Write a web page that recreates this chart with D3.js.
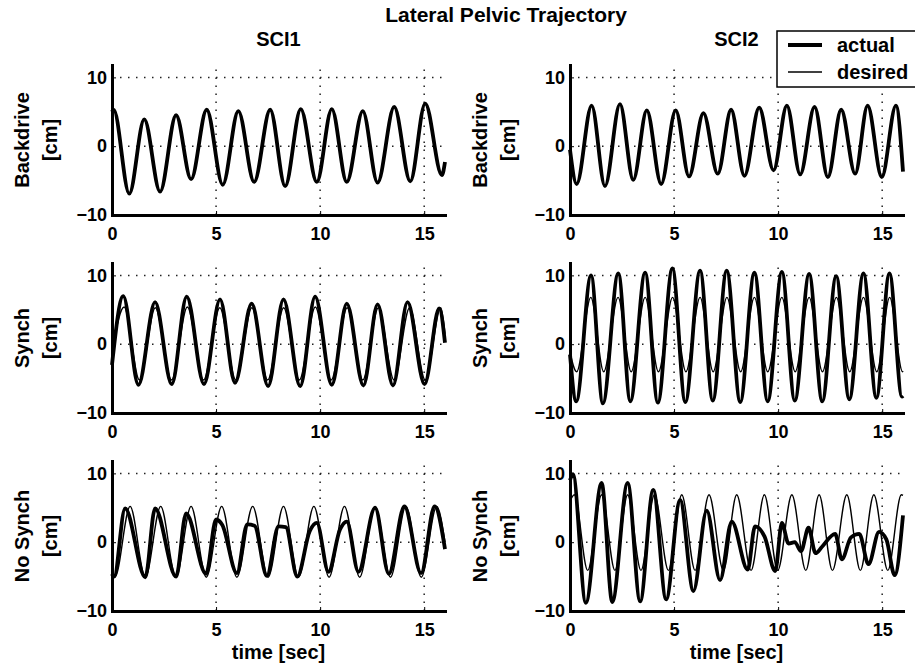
<!DOCTYPE html>
<html>
<head>
<meta charset="utf-8">
<script src="https://cdn.jsdelivr.net/npm/d3@7"></script>
<style>
  body { margin: 0; background: #fff; }
  svg text { font-family: "Liberation Sans", Arial, Helvetica, sans-serif; font-weight: bold; fill: #000; }
  .tick text { font-size: 18px; }
  .lbl { font-size: 20px; }
  .title { font-size: 21px; }
</style>
</head>
<body>
<svg id="chart" width="915" height="666"></svg>
<script>
// --- Datos (t en s, valor en cm) ---
const xTicks = [0, 5, 10, 15];
const yTicks = [-10, 0, 10];
const colTitles = ["SCI1", "SCI2"];
const rowLabels = ["Backdrive", "Synch", "No Synch"];
const legendLabels = ["actual", "desired"];

const sci1BackdriveT = [0, 0.08, 0.83, 1.55, 2.31, 3.08, 3.8, 4.55, 5.32, 6.07, 6.83, 7.6, 8.32, 9.07, 9.84, 10.56, 11.28, 12.05, 12.76, 13.56, 14.33, 15.05, 15.85, 16];
const sci1BackdriveY = [5.0, 5.3, -6.9, 3.9, -6.6, 4.5, -4.8, 5.3, -5.6, 5.1, -5.2, 5.3, -5.8, 5.4, -5.2, 5.4, -5.2, 5.1, -5.3, 5.7, -5.1, 6.2, -4.2, -2.3];

const sci2BackdriveT = [0, 0.32, 1.04, 1.68, 2.4, 3.04, 3.69, 4.38, 5.08, 5.72, 6.41, 7.1, 7.74, 8.38, 9.09, 9.78, 10.42, 11.06, 11.75, 12.39, 13.03, 13.7, 14.3, 14.98, 15.66, 16];
const sci2BackdriveY = [-0.5, -5.5, 5.9, -5.8, 6.1, -4.9, 5.2, -5.5, 5.2, -4.4, 4.8, -4.0, 5.3, -4.3, 5.6, -3.5, 5.9, -4.1, 5.7, -4.5, 5.3, -4.0, 5.9, -4.5, 5.9, -3.7];

const sci1SynchActT = [0, 0.54, 1.27, 2.07, 2.87, 3.59, 4.42, 5.19, 5.91, 6.71, 7.5, 8.24, 9.04, 9.76, 10.56, 11.28, 12.08, 12.76, 13.5, 14.2, 15.02, 15.72, 16];
const sci1SynchActY = [-3.0, 7.0, -5.9, 6.1, -5.8, 6.9, -5.8, 6.5, -5.6, 5.9, -6.1, 6.5, -6.1, 6.9, -5.9, 5.9, -6.0, 5.8, -6.0, 6.1, -5.8, 5.2, 0.2];
const sci1SynchDesT = [0, 0.58, 1.32, 2.08, 2.86, 3.62, 4.4, 5.18, 5.95, 6.72, 7.48, 8.25, 9.0, 9.77, 10.53, 11.3, 12.05, 12.8, 13.55, 14.3, 15.05, 15.8, 16];
const sci1SynchDesY = [-1.0, 5.4, -5.2, 5.3, -5.2, 5.4, -5.2, 5.3, -5.2, 5.3, -5.2, 5.3, -5.2, 5.4, -5.2, 5.3, -5.2, 5.3, -5.2, 5.3, -5.2, 5.3, 1.5];

const sci2SynchActT = [0, 0.3, 1.01, 1.58, 2.32, 2.9, 3.61, 4.22, 4.92, 5.54, 6.25, 6.86, 7.53, 8.18, 8.86, 9.5, 10.18, 10.8, 11.49, 12.12, 12.79, 13.42, 14.1, 14.72, 15.35, 15.95, 16];
const sci2SynchActY = [-1.5, -8.3, 10.0, -8.6, 10.3, -8.3, 10.4, -8.5, 11.0, -8.4, 10.7, -8.2, 10.7, -8.4, 10.4, -8.3, 10.5, -8.2, 10.2, -8.3, 9.9, -8.0, 10.3, -7.8, 10.3, -7.6, -7.5];
const sci2SynchDesT = [0, 0.32, 1.0, 1.62, 2.31, 2.94, 3.61, 4.25, 4.93, 5.57, 6.25, 6.88, 7.54, 8.2, 8.86, 9.5, 10.18, 10.82, 11.49, 12.13, 12.8, 13.44, 14.1, 14.74, 15.36, 15.98, 16];
const sci2SynchDesY = [-1.2, -4.0, 6.8, -4.0, 6.8, -4.0, 6.8, -4.0, 6.8, -4.0, 6.8, -4.0, 6.8, -4.0, 6.8, -4.0, 6.8, -4.0, 6.8, -4.0, 6.8, -4.0, 6.8, -4.0, 6.8, -4.0, -3.9];

const sci1NoSynchActT = [0, 0.1, 0.63, 1.6, 2.07, 3.08, 3.56, 4.52, 5.0, 5.3, 6.0, 6.5, 6.85, 7.44, 8.0, 8.35, 8.9, 9.5, 9.84, 10.4, 10.95, 11.28, 11.84, 12.64, 13.3, 14.05, 14.85, 15.5, 16];
const sci1NoSynchActY = [-4.6, -5.0, 4.9, -5.1, 4.9, -5.0, 4.2, -4.6, 3.3, 2.5, -4.5, 2.6, 2.4, -4.9, 2.3, 2.2, -5.0, 1.6, 2.8, -4.3, 1.8, 3.0, -4.3, 5.0, -4.6, 5.2, -4.5, 5.2, -1.0];
const sci1NoSynchDesT = [0, 0.14, 0.87, 1.6, 2.34, 3.07, 3.8, 4.53, 5.27, 6.0, 6.76, 7.5, 8.24, 8.96, 9.7, 10.43, 11.17, 11.9, 12.64, 13.38, 14.12, 14.86, 15.6, 16];
const sci1NoSynchDesY = [-4.8, -5.1, 5.2, -5.1, 5.2, -5.1, 5.2, -5.1, 5.2, -5.1, 5.2, -5.1, 5.2, -5.1, 5.2, -5.1, 5.2, -5.1, 5.2, -5.1, 5.2, -5.1, 5.2, 0.0];

const sci2NoSynchActT = [0, 0.14, 0.76, 1.52, 2.03, 2.77, 3.37, 4.0, 4.62, 5.29, 5.93, 6.57, 7.21, 7.77, 8.54, 8.89, 9.35, 9.86, 10.18, 10.5, 10.8, 11.1, 11.46, 11.8, 12.1, 12.74, 13.06, 13.5, 13.9, 14.34, 14.85, 15.2, 15.6, 16];
const sci2NoSynchActY = [9.0, 9.9, -8.8, 8.6, -8.7, 8.6, -8.6, 7.6, -8.3, 6.1, -7.1, 4.6, -5.5, 3.0, -4.0, 2.3, 0.8, -4.2, 2.8, -0.2, 0.0, -1.3, 2.1, -1.6, -0.7, 1.2, -2.5, 0.7, 1.2, -3.2, 1.5, 0.4, -4.8, 3.9];
const sci2NoSynchDesT = [0, 0.21, 0.85, 1.52, 2.16, 2.77, 3.41, 4.06, 4.73, 5.37, 6.01, 6.68, 7.37, 8.01, 8.7, 9.34, 9.98, 10.66, 11.33, 11.97, 12.61, 13.3, 13.95, 14.6, 15.27, 15.92, 16];
const sci2NoSynchDesY = [6.0, 6.9, -4.1, 6.9, -4.1, 6.9, -4.1, 6.9, -4.1, 6.9, -4.1, 6.9, -4.1, 6.9, -4.1, 6.9, -4.1, 6.9, -4.1, 6.9, -4.1, 6.9, -4.1, 6.9, -4.1, 6.9, 6.8];

// --- Paneles (fila, columna) ---
const panels = [
    {row: 0, col: 0, actual: d3.zip(sci1BackdriveT, sci1BackdriveY), desired: null},
    {row: 0, col: 1, actual: d3.zip(sci2BackdriveT, sci2BackdriveY), desired: null},
    {row: 1, col: 0, actual: d3.zip(sci1SynchActT, sci1SynchActY), desired: d3.zip(sci1SynchDesT, sci1SynchDesY)},
    {row: 1, col: 1, actual: d3.zip(sci2SynchActT, sci2SynchActY), desired: d3.zip(sci2SynchDesT, sci2SynchDesY)},
    {row: 2, col: 0, actual: d3.zip(sci1NoSynchActT, sci1NoSynchActY), desired: d3.zip(sci1NoSynchDesT, sci1NoSynchDesY)},
    {row: 2, col: 1, actual: d3.zip(sci2NoSynchActT, sci2NoSynchActY), desired: d3.zip(sci2NoSynchDesT, sci2NoSynchDesY)}
];

// --- Layout ---
const colLeft = [112, 570];
const plotW = 333;
const rowBottom = [215, 413, 611];
const plotH = 150;

const svg = d3.select("#chart");

panels.forEach(p => {
    const x0 = colLeft[p.col], bottom = rowBottom[p.row];
    const x = d3.scaleLinear().domain([0, 16]).range([x0, x0 + plotW]);
    const y = d3.scaleLinear().domain([-10, 11.8]).range([bottom, bottom - plotH]);
    const g = svg.append("g");

    // grid punteado
    g.selectAll(".gx").data(xTicks.filter(d => d > 0)).join("line")
        .attr("x1", d => x(d)).attr("x2", d => x(d))
        .attr("y1", y.range()[0]).attr("y2", y.range()[1])
        .attr("stroke", "#222").attr("stroke-width", 1.5).attr("stroke-dasharray", "1.5,6.5");
    g.selectAll(".gy").data(yTicks.filter(d => d > -10)).join("line")
        .attr("x1", x.range()[0]).attr("x2", x.range()[1])
        .attr("y1", d => y(d)).attr("y2", d => y(d))
        .attr("stroke", "#222").attr("stroke-width", 1.5).attr("stroke-dasharray", "1.5,6.5");

    const line = d3.line()
        .x(d => x(d[0]))
        .y(d => y(d[1]))
        .curve(d3.curveMonotoneX);

    g.append("path").datum(p.actual)
        .attr("d", line).attr("fill", "none")
        .attr("stroke", "#000").attr("stroke-width", 3.8).attr("stroke-linejoin", "round");
    if (p.desired) {
        g.append("path").datum(p.desired)
            .attr("d", line).attr("fill", "none")
            .attr("stroke", "#000").attr("stroke-width", 1.4);
    }

    // ejes
    const xAxis = g.append("g")
        .attr("transform", `translate(0,${bottom})`)
        .call(d3.axisBottom(x).tickValues(xTicks).tickSizeInner(-4).tickSizeOuter(0).tickPadding(12));
    const yAxis = g.append("g")
        .attr("transform", `translate(${x0},0)`)
        .call(d3.axisLeft(y).tickValues(yTicks).tickSizeInner(-4).tickSizeOuter(0).tickPadding(5));
    [xAxis, yAxis].forEach(a => {
        a.attr("font-family", null).attr("font-size", null);
        a.select(".domain").attr("stroke-width", 3).attr("stroke-linecap", "square");
    });

    // etiqueta del eje y (dos líneas)
    const cy = bottom - plotH / 2;
    g.append("text").attr("class", "lbl")
        .attr("transform", `translate(${x0 - 90},${cy}) rotate(-90)`)
        .attr("text-anchor", "middle").attr("dy", "0.35em")
        .text(rowLabels[p.row]);
    g.append("text").attr("class", "lbl")
        .attr("transform", `translate(${x0 - 62},${cy}) rotate(-90)`)
        .attr("text-anchor", "middle").attr("dy", "0.35em")
        .text("[cm]");

    if (p.row === 0) {
        g.append("text").attr("class", "lbl")
            .attr("x", x0 + plotW / 2).attr("y", 46)
            .attr("text-anchor", "middle")
            .text(colTitles[p.col]);
    }
    if (p.row === 2) {
        g.append("text").attr("class", "lbl")
            .attr("x", x0 + plotW / 2).attr("y", 659)
            .attr("text-anchor", "middle")
            .text("time [sec]");
    }
});

// --- Título ---
svg.append("text").attr("class", "title")
    .attr("x", 506).attr("y", 22)
    .attr("text-anchor", "middle")
    .text("Lateral Pelvic Trajectory");

// --- Leyenda ---
const legend = svg.append("g").attr("transform", "translate(777,31)");
legend.append("rect")
    .attr("width", 160).attr("height", 56)
    .attr("fill", "#fff").attr("stroke", "#000").attr("stroke-width", 1.5);
legendLabels.forEach((name, i) => {
    const ly = 14 + i * 27;
    legend.append("line")
        .attr("x1", 11).attr("x2", 45).attr("y1", ly).attr("y2", ly)
        .attr("stroke", "#000").attr("stroke-width", i === 0 ? 3.8 : 1.4);
    legend.append("text").attr("class", "lbl")
        .attr("x", 60).attr("y", ly).attr("dy", "0.35em")
        .text(name);
});
</script>
</body>
</html>
